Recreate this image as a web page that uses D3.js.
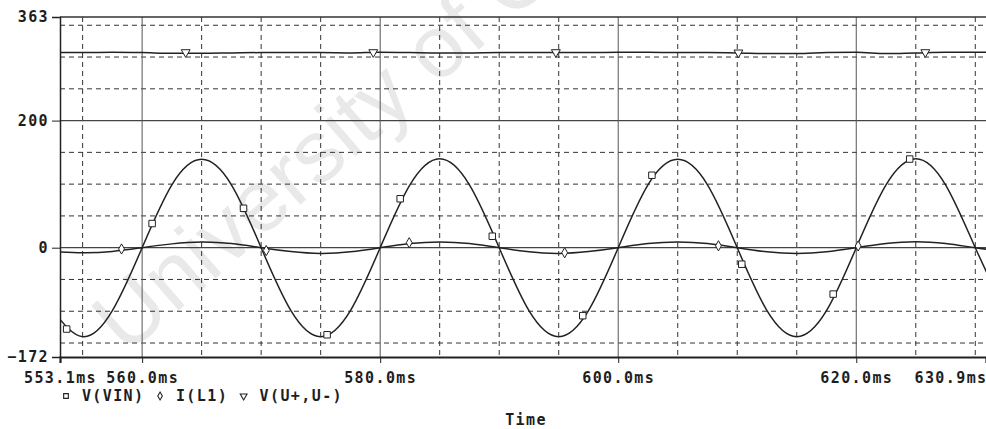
<!DOCTYPE html>
<html>
<head>
<meta charset="utf-8">
<script src="https://cdn.jsdelivr.net/npm/d3@7"></script>
<style>
body { margin: 0; background: #fff; }
svg { display: block; }
.lbl { font-family: "DejaVu Sans Mono", monospace; font-weight: bold; font-size: 15px; letter-spacing: 1.4px; fill: #1e1e1e; }
</style>
</head>
<body>
<svg id="chart" width="986" height="429"></svg>
<script>
// sample times (ms)
var times = [552.5, 555, 557.5, 560, 562.5, 565, 567.5, 570, 572.5, 575, 577.5, 580, 582.5, 585, 587.5, 590,
             592.5, 595, 597.5, 600, 602.5, 605, 607.5, 610, 612.5, 615, 617.5, 620, 622.5, 625, 627.5, 630, 632.5];
var vin = [-99, -140, -99, 0, 99, 139, 99, 0, -99, -140, -99, 0, 99, 140, 99, 0,
           -99, -140, -99, 0, 99, 139, 99, 0, -99, -140, -99, 0, 99, 140, 99, 0, -99];
var il1 = [-6, -8, -6, 0, 6, 9, 6.5, 0, -6, -9, -6.5, 0, 6.5, 9, 6.5, 0,
           -6.5, -9, -6, 0, 6.5, 9, 6.5, 0, -6.5, -9, -6.5, 0, 6.5, 9.5, 6.5, 0, -6];
var vout = [307, 307, 307.5, 307, 306, 306, 306.5, 307, 307, 307, 306.5, 307.5, 307, 306.5, 306.5, 307,
            307, 307, 307, 307.5, 307.5, 307, 307, 306.5, 305.5, 305.5, 307, 307.5, 305.5, 306.5, 307.5, 307.5, 307.5];

// marker positions
var vinMarkT = [553.66, 560.84, 568.52, 575.54, 581.68, 589.42, 597.02, 602.83, 610.38, 618.06, 624.49];
var vinMarkV = [-128, 38, 62, -137, 77, 18, -107, 114, -26, -73, 139.5];
var il1MarkT = [558.27, 570.43, 582.44, 595.5, 608.42, 620.16];
var il1MarkV = [-2, -4.5, 7.8, -7.9, 3, 2.7];
var voutMarkT = [563.66, 579.42, 594.76, 610.1, 625.8];
var voutMarkV = [307.5, 307.5, 307.5, 307, 307.5];

var yTicks = [363, 200, 0, -172];
var yGridSolid = [200, 0];
var yGridDash = [350, 300, 250, 150, 100, 50, -50, -100, -150];
var xTicks = [553.1, 560, 580, 600, 620, 630.9];
var xGridSolid = [560, 580, 600, 620];
var xGridDash = [555, 565, 570, 575, 585, 590, 595, 605, 610, 615, 625, 630];

var legendItems = ["V(VIN)", "I(L1)", "V(U+,U-)"];
var legendSymbols = ["square", "diamond", "triangle"];

var svg = d3.select("#chart");
var plotL = 60, plotR = 986, plotT = 17, plotB = 357;

var x = d3.scaleLinear().domain([553.1, 630.9]).range([plotL, plotR]);
var y = d3.scaleLinear().domain([-172, 363]).range([plotB, plotT]);

// watermark
svg.append("text")
    .attr("transform", "translate(126,356) rotate(-41)")
    .style("font-family", "Liberation Sans, Arial, sans-serif")
    .style("font-size", "88px")
    .style("fill", "#e9e9e9")
    .text("University of Cape Town");

svg.append("clipPath").attr("id", "plot")
    .append("rect").attr("x", plotL).attr("y", plotT - 1).attr("width", plotR - plotL + 2).attr("height", plotB - plotT + 2);

var grid = svg.append("g");

grid.selectAll("hdash").data(yGridDash).enter().append("line")
    .attr("x1", plotL).attr("x2", plotR)
    .attr("y1", d => y(d)).attr("y2", d => y(d))
    .attr("stroke", "#333").attr("stroke-width", 1).attr("stroke-dasharray", "5,4");

grid.selectAll("vdash").data(xGridDash).enter().append("line")
    .attr("x1", d => x(d)).attr("x2", d => x(d))
    .attr("y1", plotT).attr("y2", plotB)
    .attr("stroke", "#333").attr("stroke-width", 1).attr("stroke-dasharray", "5,4");

grid.selectAll("hsolid").data(yGridSolid).enter().append("line")
    .attr("x1", plotL).attr("x2", plotR)
    .attr("y1", d => y(d)).attr("y2", d => y(d))
    .attr("stroke", "#444").attr("stroke-width", 1.2);

grid.selectAll("vsolid").data(xGridSolid).enter().append("line")
    .attr("x1", d => x(d)).attr("x2", d => x(d))
    .attr("y1", plotT).attr("y2", plotB)
    .attr("stroke", "#555").attr("stroke-width", 1);

// frame top
grid.append("line").attr("x1", plotL).attr("x2", plotR).attr("y1", plotT).attr("y2", plotT)
    .attr("stroke", "#333").attr("stroke-width", 1.3);

// axes
var yAxis = svg.append("g")
    .attr("transform", "translate(" + plotL + ",0)")
    .call(d3.axisLeft(y).tickValues(yTicks).tickSize(8).tickPadding(3).tickFormat(d3.format("d")));
yAxis.attr("font-size", null).attr("font-family", null);
yAxis.select(".domain").attr("stroke", "#222").attr("stroke-width", 1.5);
yAxis.selectAll("text").attr("class", "lbl");
yAxis.selectAll(".tick line").attr("stroke", "#222");

var xAxis = svg.append("g")
    .attr("transform", "translate(0," + plotB + ")")
    .call(d3.axisBottom(x).tickValues(xTicks).tickSize(6).tickPadding(9)
        .tickFormat(d => d3.format(".1f")(d) + "ms"));
xAxis.attr("font-size", null).attr("font-family", null);
xAxis.select(".domain").attr("stroke", "#222").attr("stroke-width", 2.2);
xAxis.selectAll(".tick line").attr("stroke", "#222");
xAxis.selectAll("text").attr("class", "lbl")
    .filter(d => d == 630.9).attr("text-anchor", "end").attr("dx", 1);

// series
var series = svg.append("g").attr("clip-path", "url(#plot)");

function drawLine(values, curve) {
    var line = d3.line()
        .x((d, i) => x(times[i]))
        .y(d => y(d))
        .curve(curve);
    series.append("path")
        .attr("d", line(values))
        .attr("fill", "none")
        .attr("stroke", "#222")
        .attr("stroke-width", 1.5);
}

drawLine(vout, d3.curveMonotoneX);
drawLine(il1, d3.curveNatural);
drawLine(vin, d3.curveNatural);

var symbolTypes = {
    square: d3.symbol().type(d3.symbolSquare).size(42),
    diamond: d3.symbol().type(d3.symbolDiamond).size(30),
    triangle: d3.symbol().type(d3.symbolTriangle).size(34)
};

function drawMarks(ts, vs, kind) {
    series.selectAll("m-" + kind)
        .data(ts)
        .enter()
        .append("path")
        .attr("d", symbolTypes[kind]())
        .attr("transform", (d, i) => "translate(" + x(d) + "," + y(vs[i]) + ")" + (kind == "triangle" ? " rotate(180)" : ""))
        .attr("fill", "#fff")
        .attr("stroke", "#222")
        .attr("stroke-width", 1);
}

drawMarks(vinMarkT, vinMarkV, "square");
drawMarks(il1MarkT, il1MarkV, "diamond");
drawMarks(voutMarkT, voutMarkV, "triangle");

// legend
var cw = 10.45, lx = 62, ly = 401;
var charPos = 0;
legendItems.forEach(function(name, i) {
    var sx = lx + charPos * cw + 4;
    var sym = {
        square: d3.symbol().type(d3.symbolSquare).size(22),
        diamond: d3.symbol().type(d3.symbolDiamond).size(18),
        triangle: d3.symbol().type(d3.symbolTriangle).size(20)
    }[legendSymbols[i]];
    svg.append("path")
        .attr("d", sym())
        .attr("transform", "translate(" + sx + "," + (ly - 5) + ")" + (legendSymbols[i] == "triangle" ? " rotate(180)" : ""))
        .attr("fill", "#fff").attr("stroke", "#222").attr("stroke-width", 1.1);
    svg.append("text").attr("class", "lbl")
        .attr("x", lx + (charPos + 2) * cw - 1)
        .attr("y", ly)
        .text(name);
    charPos += name.length + 3;
});

svg.append("text").attr("class", "lbl")
    .attr("x", (plotL + plotR) / 2 + 3)
    .attr("y", 425)
    .attr("text-anchor", "middle")
    .text("Time");
</script>
</body>
</html>
